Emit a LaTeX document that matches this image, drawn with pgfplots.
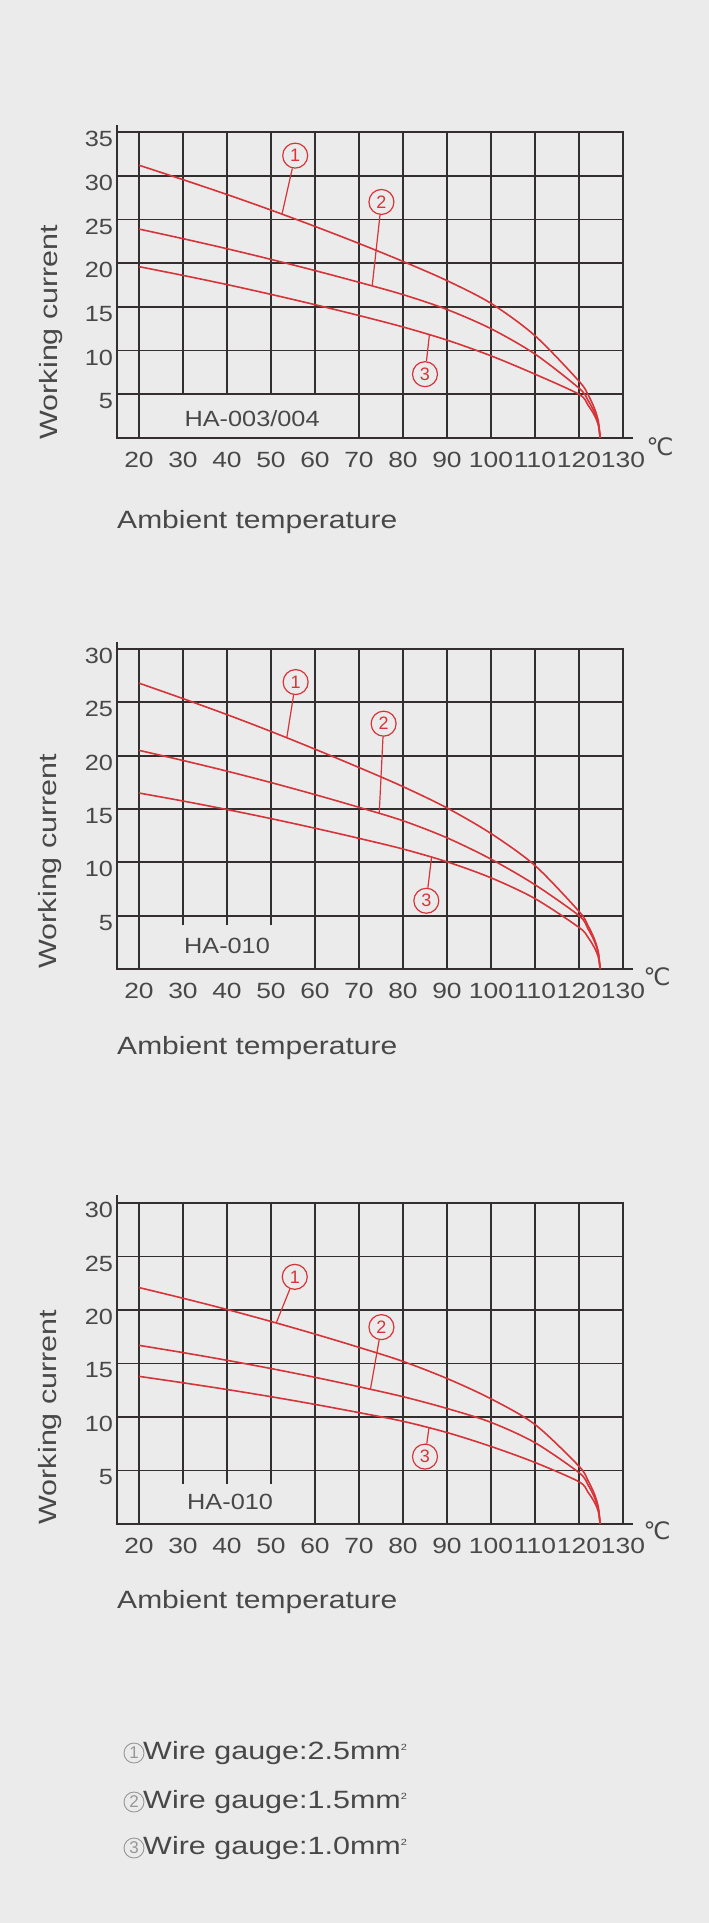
\documentclass[border=0pt]{standalone}
\usepackage{pgfplots}
\pgfplotsset{compat=1.18}
\usepackage{fontspec}
\setmainfont{Liberation Sans}
\newfontfamily\dejavu{DejaVu Sans}

\definecolor{bg}{RGB}{235,235,235}
\definecolor{gridc}{RGB}{52,47,47}
\definecolor{txt}{RGB}{72,72,72}
\definecolor{crv}{RGB}{214,52,56}
\definecolor{lg}{RGB}{150,150,150}

\newcommand{\tickf}{\fontsize{22}{24}\selectfont}
\newcommand{\labf}{\fontsize{25}{28}\selectfont}

\pgfplotsset{
  chart/.style={
    scale only axis, width=506pt, anchor=south west,
    xmin=15, xmax=130, ymin=0,
    xtick={20,30,...,130}, major tick length=0pt,
    axis line style={draw=gridc, line width=1.8pt},
    ymajorgrids, grid style={draw=gridc, line width=1.8pt},
    tick label style={font=\tickf, text=txt},
    xticklabel style={xscale=1.2, yshift=-11pt},
    yticklabel style={xscale=1.15, yshift=-7pt},
    /pgf/number format/assume math mode=true,
    clip=false},
  curve/.style={draw=crv, line width=1.6pt, smooth, tension=0.5, no markers},
}
\tikzset{
  gline/.style={draw=gridc, line width=1.8pt},
  lead/.style={draw=crv, line width=1.2pt},
  callout/.style={circle, draw=crv, text=crv, line width=1.2pt, inner sep=0pt,
    minimum size=25pt, font=\fontsize{18}{18}\selectfont},
  degc/.style={font=\dejavu\fontsize{24}{24}\selectfont, text=txt},
}

\begin{document}
\begin{tikzpicture}
\fill[bg] (0,0) rectangle (709pt,-1923pt);
\useasboundingbox (0,0) rectangle (709pt,-1923pt);

% ---- chart 1: HA-003/004
\begin{axis}[chart, at={(117pt,-438pt)}, height=306pt, ymax=35, ytick={5,10,...,35}]
  \pgfplotsinvokeforeach{20,70,80,90,100,110,120}{\draw[gline] (axis cs:#1,0) -- (axis cs:#1,35);}
  \pgfplotsinvokeforeach{30,40,50,60}{\draw[gline] (axis cs:#1,5) -- (axis cs:#1,35);}
  \draw[gline] (axis cs:15,35) -- ++(0pt,7pt);
  \draw[gline] (axis cs:130,0) -- ++(10pt,0pt);
  \addplot[curve] coordinates {(20,31.2)(30,29.55)(40,27.85)(50,26.07)(60,24.2)(70,22.25)(80,20.2)(90,18.0)(100,15.4)(110,11.7)(120,6.5)(122,5.0)(123.5,3.4)(124.4,1.9)(124.8,0)};
  \addplot[curve] coordinates {(20,23.9)(30,22.8)(40,21.65)(50,20.43)(60,19.15)(70,17.81)(80,16.4)(90,14.7)(100,12.5)(110,9.6)(120,5.7)(122,4.35)(123.5,2.96)(124.4,1.65)(124.8,0)};
  \addplot[curve] coordinates {(20,19.6)(30,18.6)(40,17.55)(50,16.43)(60,15.25)(70,14.01)(80,12.7)(90,11.2)(100,9.4)(110,7.3)(120,5.0)(122,3.8)(123.5,2.6)(124.4,1.45)(124.8,0)};
  \node[callout] (a1) at (axis cs:55.5,32.3) {1};
  \draw[lead] (a1) -- (axis cs:52.5,25.6);
  \node[callout] (a2) at (axis cs:75.1,27.0) {2};
  \draw[lead] (a2) -- (axis cs:73,17.4);
  \node[callout] (a3) at (axis cs:85,7.3) {3};
  \draw[lead] (a3) -- (axis cs:86,11.8);
  \node[font=\tickf, text=txt, xscale=1.15] at (axis cs:45.7,2.2) {HA-003/004};
\end{axis}
\node[rotate=90, xscale=1.22, font=\labf, text=txt] at (51pt,-332pt) {Working current};
\node[anchor=west, inner sep=0pt, xscale=1.2, font=\labf, text=txt] at (117pt,-522pt) {Ambient temperature};
\node[degc] at (660pt,-447pt) {℃};

% ---- chart 2: HA-010
\begin{axis}[chart, at={(117pt,-969pt)}, height=320pt, ymax=30, ytick={5,10,...,30}]
  \pgfplotsinvokeforeach{20,60,70,80,90,100,110,120}{\draw[gline] (axis cs:#1,0) -- (axis cs:#1,30);}
  \pgfplotsinvokeforeach{30,40,50}{\draw[gline] (axis cs:#1,4.1) -- (axis cs:#1,30);}
  \draw[gline] (axis cs:15,30) -- ++(0pt,7pt);
  \draw[gline] (axis cs:130,0) -- ++(10pt,0pt);
  \addplot[curve] coordinates {(20,26.8)(30,25.35)(40,23.85)(50,22.27)(60,20.61)(70,18.89)(80,17.1)(90,15.1)(100,12.7)(110,9.7)(120,5.4)(122,4.1)(123.5,2.8)(124.4,1.55)(124.8,0)};
  \addplot[curve] coordinates {(20,20.5)(30,19.55)(40,18.55)(50,17.48)(60,16.35)(70,15.16)(80,13.9)(90,12.3)(100,10.3)(110,7.9)(120,5.0)(122,3.8)(123.5,2.6)(124.4,1.45)(124.8,0)};
  \addplot[curve] coordinates {(20,16.5)(30,15.75)(40,14.95)(50,14.1)(60,13.2)(70,12.25)(80,11.25)(90,10.05)(100,8.55)(110,6.6)(120,3.9)(122,3.0)(123.5,2.0)(124.4,1.1)(124.8,0)};
  \node[callout] (b1) at (axis cs:55.6,26.9) {1};
  \draw[lead] (b1) -- (axis cs:53.6,21.7);
  \node[callout] (b2) at (axis cs:75.6,23.0) {2};
  \draw[lead] (b2) -- (axis cs:74.6,14.6);
  \node[callout] (b3) at (axis cs:85.3,6.4) {3};
  \draw[lead] (b3) -- (axis cs:86.5,10.5);
  \node[font=\tickf, text=txt, xscale=1.15] at (axis cs:40,2.2) {HA-010};
\end{axis}
\node[rotate=90, xscale=1.22, font=\labf, text=txt] at (50pt,-861pt) {Working current};
\node[anchor=west, inner sep=0pt, xscale=1.2, font=\labf, text=txt] at (117pt,-1048pt) {Ambient temperature};
\node[degc] at (657pt,-977pt) {℃};

% ---- chart 3: HA-010
\begin{axis}[chart, at={(117pt,-1524pt)}, height=321pt, ymax=30, ytick={5,10,...,30}]
  \pgfplotsinvokeforeach{20,60,70,80,90,100,110,120}{\draw[gline] (axis cs:#1,0) -- (axis cs:#1,30);}
  \pgfplotsinvokeforeach{30,40,50}{\draw[gline] (axis cs:#1,3.7) -- (axis cs:#1,30);}
  \draw[gline] (axis cs:15,30) -- ++(0pt,8pt);
  \draw[gline] (axis cs:130,0) -- ++(10pt,0pt);
  \addplot[curve] coordinates {(20,22.1)(30,21.1)(40,20.05)(50,18.93)(60,17.75)(70,16.51)(80,15.2)(90,13.6)(100,11.7)(110,9.3)(120,5.4)(122,4.1)(123.5,2.8)(124.4,1.55)(124.8,0)};
  \addplot[curve] coordinates {(20,16.7)(30,16.02)(40,15.3)(50,14.53)(60,13.71)(70,12.83)(80,11.9)(90,10.8)(100,9.5)(110,7.6)(120,4.8)(122,3.7)(123.5,2.5)(124.4,1.4)(124.8,0)};
  \addplot[curve] coordinates {(20,13.8)(30,13.2)(40,12.57)(50,11.9)(60,11.18)(70,10.41)(80,9.6)(90,8.55)(100,7.25)(110,5.75)(120,3.95)(122,3.0)(123.5,2.05)(124.4,1.15)(124.8,0)};
  \node[callout] (c1) at (axis cs:55.4,23.1) {1};
  \draw[lead] (c1) -- (axis cs:51.2,18.8);
  \node[callout] (c2) at (axis cs:75.1,18.4) {2};
  \draw[lead] (c2) -- (axis cs:72.6,12.6);
  \node[callout] (c3) at (axis cs:85,6.3) {3};
  \draw[lead] (c3) -- (axis cs:85.9,9.0);
  \node[font=\tickf, text=txt, xscale=1.15] at (axis cs:40.7,2.1) {HA-010};
\end{axis}
\node[rotate=90, xscale=1.22, font=\labf, text=txt] at (50pt,-1417pt) {Working current};
\node[anchor=west, inner sep=0pt, xscale=1.2, font=\labf, text=txt] at (117pt,-1602pt) {Ambient temperature};
\node[degc] at (657pt,-1531pt) {℃};

% ---- key
\foreach \n/\g/\y in {1/2.5/1753, 2/1.5/1802, 3/1.0/1848}{
  \node[circle, draw=lg, text=lg, line width=0.9pt, inner sep=0pt, minimum size=20pt,
        font=\fontsize{17}{17}\selectfont] at (134pt,-\y pt) {\n};
  \node[anchor=west, inner sep=0pt, xscale=1.22, font=\labf, text=txt] at (143pt,-\y pt)
        {Wire gauge:\g mm\textsuperscript{\fontsize{9}{9}\selectfont 2}};
}
\end{tikzpicture}
\end{document}
